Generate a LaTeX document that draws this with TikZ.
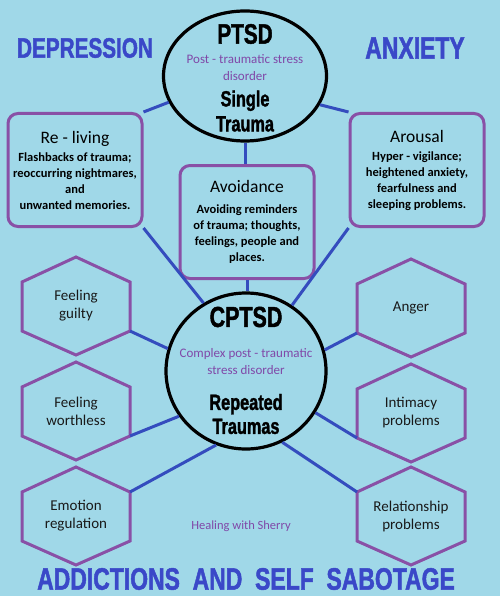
\documentclass[tikz,border=0pt]{standalone}
\usepackage{fontspec}
\setmainfont{Carlito}
\newfontfamily\headfont[FakeStretch=0.74, FakeBold=1.5]{Liberation Sans}
\usetikzlibrary{
  shapes.geometric,
  positioning
}
\definecolor{skyback}{RGB}{160,216,232}
\definecolor{boxpurple}{RGB}{137,80,166}
\definecolor{linkblue}{RGB}{52,76,190}
\definecolor{headblue}{RGB}{58,72,200}
\definecolor{notepurple}{RGB}{128,72,168}
\newcommand{\boxtitle}{\mdseries\fontsize{17.5}{18}\selectfont}
\tikzset{
  link/.style={linkblue, line width=3pt},
  disorder/.style={ellipse, draw=black, line width=3.2pt, inner sep=0pt},
  symptom/.style={rectangle, rounded corners=10pt, draw=boxpurple, line width=3pt,
    minimum width=134pt, minimum height=113pt, align=center, inner sep=1pt,
    font=\bfseries\fontsize{12.5}{16}\selectfont},
  hexline/.style={boxpurple, line width=3pt, line join=miter},
  hextext/.style={align=center, text=black!90, font=\fontsize{15}{18}\selectfont},
  bigword/.style={align=center, font=\headfont\bfseries\fontsize{28}{30}\selectfont},
  note/.style={notepurple, align=center, font=\fontsize{13}{17}\selectfont},
  theme/.style={headblue, font=\headfont\bfseries\fontsize{28}{30}\selectfont}
}
% hexagon cell: name, centre, text
\newcommand{\hexcell}[3]{%
  \node[hextext] (#1) at (#2) {#3};
  \draw[hexline] (#1.center) ++(0,-49) coordinate (#1-n)
    -- ++(54,25) coordinate (#1-ne) -- ++(0,49) coordinate (#1-se)
    -- ++(-54,24) coordinate (#1-s) -- ++(-54,-24) coordinate (#1-sw)
    -- ++(0,-49) coordinate (#1-nw) -- cycle;
}

\begin{document}
\begin{tikzpicture}[x=1pt, y=-1pt]
  \fill[skyback] (0,0) rectangle (500,596);
  \useasboundingbox (0,0) rectangle (500,596);

  % headings
  \node[theme] (depression) at (85,48) {DEPRESSION};
  \node[theme, font=\headfont\bfseries\fontsize{31}{33}\selectfont] (anxiety) at (415,48) {ANXIETY};
  \node[theme, font=\headfont\bfseries\fontsize{31}{33}\selectfont] (addictions) at (246,579)
    {ADDICTIONS~ AND~ SELF~ SABOTAGE};

  % PTSD
  \node[disorder, minimum width=163pt, minimum height=130pt] (ptsd) at (245,76) {};
  \node[bigword] (ptsdname) at (245,34) {PTSD};
  \node[note] (ptsdfull) at (245,68) {Post - traumatic stress\\disorder};
  \node[bigword, font=\headfont\bfseries\fontsize{22}{25}\selectfont] (single) at (245,111) {Single\\Trauma};

  % PTSD symptoms
  \node[symptom] (reliving) at (75,170) {{\boxtitle Re - living}\\[2pt]
    Flashbacks of trauma;\\reoccurring nightmares,\\and\\unwanted memories.};
  \node[symptom] (avoidance) at (247,222) {{\boxtitle Avoidance}\\[5pt]
    Avoiding reminders\\of trauma; thoughts,\\feelings, people and\\places.};
  \node[symptom] (arousal) at (417,170) {{\boxtitle Arousal}\\[2pt]
    Hyper - vigilance;\\heightened anxiety,\\fearfulness and\\sleeping problems.};

  % CPTSD
  \node[disorder, minimum width=160pt, minimum height=156pt] (cptsd) at (246,371) {};
  \node[bigword, font=\headfont\bfseries\fontsize{29}{31}\selectfont] (cptsdname) at (246,317) {CPTSD};
  \node[note] (cptsdfull) at (246,362) {Complex post - traumatic\\stress disorder};
  \node[bigword, font=\headfont\bfseries\fontsize{22}{24}\selectfont] (repeated) at (246,414) {Repeated\\Traumas};

  % CPTSD symptoms
  \hexcell{guilty}{76,306}{Feeling\\guilty}
  \hexcell{worthless}{76,411}{Feeling\\worthless}
  \hexcell{emotion}{76,516}{Emotion\\regulation}
  \hexcell{anger}{411,308}{Anger}
  \hexcell{intimacy}{411,413}{Intimacy\\problems}
  \hexcell{relationship}{411,516}{Relationship\\problems}

  \node[note, font=\fontsize{12.5}{14}\selectfont] (credit) at (241,526) {Healing with Sherry};

  % connectors
  \draw[link] (ptsd.199) -- (reliving.north east);
  \draw[link] (ptsd.339) -- (arousal.north west);
  \draw[link] (ptsd.south) -- (ptsd.south |- avoidance.north);
  \draw[link] (reliving.south east) -- (cptsd.122);
  \draw[link] (arousal.south west) -- (cptsd.55);
  \draw[link] (avoidance.south) -- (avoidance.south |- cptsd.north);
  \draw[link] (guilty-se) -- (cptsd.164);
  \draw[link] (worthless-se) -- (cptsd.214);
  \draw[link] (emotion-ne) -- (cptsd.248);
  \draw[link] (anger-sw) -- (cptsd.15);
  \draw[link] (intimacy-sw) -- (cptsd.329);
  \draw[link] (relationship-nw) -- (cptsd.297);
\end{tikzpicture}
\end{document}
